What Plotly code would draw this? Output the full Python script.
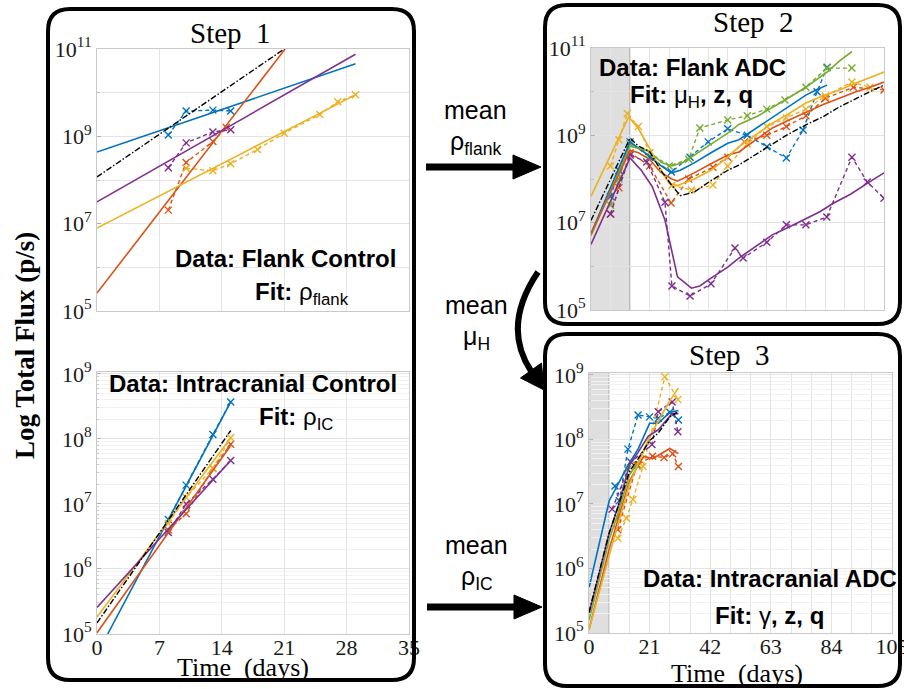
import plotly.graph_objects as go

W, H = 904, 689

BLUE = '#0072BD'; ORANGE = '#D95319'; YELLOW = '#EDB120'
PURPLE = '#7E2F8E'; GREEN = '#77AC30'; BLACK = '#000000'

# ---------------- Step 1 (top): Flank control, values as log10(flux) ----------------
FC_BLUE_FIT_T = [0, 29];      FC_BLUE_FIT = [8.64, 10.66]
FC_ORANGE_FIT_T = [0, 21.1];  FC_ORANGE_FIT = [5.41, 11.0]
FC_YELLOW_FIT_T = [0, 29];    FC_YELLOW_FIT = [6.9, 9.95]
FC_PURPLE_FIT_T = [0, 29];    FC_PURPLE_FIT = [7.5, 10.88]
FC_MEAN_FIT_T = [0, 21];      FC_MEAN_FIT = [8.07, 11.0]

FC_BLUE_T = [8, 10, 13, 15];        FC_BLUE = [9.03, 9.58, 9.6, 9.58]
FC_ORANGE_T = [8, 10, 13, 14.5];    FC_ORANGE = [7.31, 8.4, 8.88, 9.2]
FC_YELLOW_T = [10, 13, 15, 18, 21, 25, 27, 29]
FC_YELLOW = [8.27, 8.21, 8.37, 8.7, 9.07, 9.5, 9.79, 9.95]
FC_PURPLE_T = [8, 10, 13, 15];      FC_PURPLE = [8.28, 8.85, 9.1, 9.15]

# ---------------- Step 1 (bottom): Intracranial control ----------------
IC_BLUE_FIT_T = [1.2, 15];   IC_BLUE_FIT = [5.0, 8.57]
IC_ORANGE_FIT_T = [0, 15];   IC_ORANGE_FIT = [5.02, 7.9]
IC_YELLOW_FIT_T = [0, 15];   IC_YELLOW_FIT = [5.26, 8.02]
IC_PURPLE_FIT_T = [0, 15];   IC_PURPLE_FIT = [5.41, 7.67]
IC_MEAN_FIT_T = [0, 15];     IC_MEAN_FIT = [5.17, 8.13]

IC_BLUE_T = [8, 10, 13, 15];    IC_BLUE = [6.76, 7.29, 8.07, 8.57]
IC_ORANGE_T = [8, 10, 13, 15];  IC_ORANGE = [6.6, 6.85, 7.55, 7.92]
IC_YELLOW_T = [8, 10, 13, 15];  IC_YELLOW = [6.7, 7.1, 7.55, 8.02]
IC_PURPLE_T = [8, 10, 13, 15];  IC_PURPLE = [6.56, 7.0, 7.38, 7.67]

# ---------------- Step 2: Flank ADC (model = solid, data = dashed) ----------------
FA_MEAN_T = [0, 14, 17, 21, 25, 29, 32, 37, 42, 49, 53, 58, 65, 70, 77, 83, 89, 95, 100, 105]
FA_MEAN = [7.05, 8.94, 8.75, 8.63, 8.2, 7.85, 7.62, 7.7, 7.92, 8.2, 8.32, 8.52, 8.82, 9.0, 9.24, 9.42, 9.65, 9.85, 10.0, 10.15]

FA_BLUE_T = [0, 14, 17, 20.5, 24, 28.8, 32, 37, 43, 49, 53, 59, 65, 71, 77, 81, 84.6]
FA_BLUE = [6.75, 8.85, 8.7, 8.55, 8.35, 8.14, 8.2, 8.37, 8.6, 8.82, 8.9, 9.15, 9.42, 9.65, 9.92, 10.05, 10.15]
FA_GREEN_T = [0, 14, 17, 20.5, 25.5, 29, 33, 37, 43, 49, 53, 60, 69.5, 77, 84.6, 89, 93.5]
FA_GREEN = [6.7, 8.75, 8.7, 8.64, 8.37, 8.3, 8.38, 8.55, 8.8, 9.05, 9.25, 9.45, 9.81, 10.1, 10.45, 10.7, 10.92]
FA_ORANGE_T = [0, 14, 17, 21, 25, 29, 31, 37, 43, 49, 53, 59, 65, 71, 77, 83, 89, 95, 100, 105]
FA_ORANGE = [6.75, 8.66, 8.6, 8.45, 8.15, 8.0, 7.95, 8.14, 8.35, 8.55, 8.62, 8.9, 9.17, 9.35, 9.53, 9.7, 9.85, 10.0, 10.1, 10.22]
FA_YELLOW_T = [0, 13.5, 17, 21, 25, 28, 31, 37, 43, 49, 53, 59, 65, 71, 77, 83, 89, 95, 100, 105]
FA_YELLOW = [7.6, 9.42, 9.15, 8.7, 8.2, 7.9, 7.85, 8.0, 8.2, 8.5, 8.74, 9.0, 9.28, 9.5, 9.74, 9.9, 10.04, 10.2, 10.32, 10.45]
FA_PURPLE_T = [0, 14, 18, 22, 26.5, 29, 31, 36, 39, 43, 49, 53, 59, 65, 71, 77, 82, 87, 93, 99, 105]
FA_PURPLE = [6.5, 8.48, 8.2, 7.82, 7.06, 6.3, 5.76, 5.5, 5.55, 5.73, 5.98, 6.19, 6.45, 6.72, 6.9, 7.1, 7.25, 7.45, 7.65, 7.9, 8.14]

FA_BLUE_DT = [7, 10, 14, 21, 28.8, 35.5, 42, 49, 56, 63, 70, 76, 81, 84.6]
FA_BLUE_D = [7.6, 8.2, 8.85, 8.5, 8.16, 8.5, 8.85, 9.15, 9.0, 8.74, 8.48, 9.12, 10.0, 10.56]
FA_GREEN_DT = [7, 10, 14, 21, 28, 35, 39, 49, 56, 63, 69.5, 77, 84.5, 93.5]
FA_GREEN_D = [7.4, 8.0, 8.8, 8.6, 8.3, 8.45, 9.17, 9.35, 9.45, 9.6, 9.81, 10.1, 10.54, 10.54]
FA_ORANGE_DT = [7, 10, 14, 21, 28.7, 35, 43.7, 49, 55, 63, 70, 77, 84, 94, 105]
FA_ORANGE_D = [7.2, 7.8, 8.6, 8.3, 7.45, 8.0, 8.27, 8.5, 8.85, 9.0, 9.2, 9.45, 9.85, 10.1, 10.04]
FA_YELLOW_DT = [7, 10, 13, 17, 21, 29, 36, 43.7, 49, 56, 63, 70, 77, 84, 93.5, 100]
FA_YELLOW_D = [8.3, 8.9, 9.5, 9.2, 8.6, 7.85, 7.75, 7.86, 8.3, 8.8, 9.2, 9.4, 9.6, 9.9, 10.22, 10.1]
FA_PURPLE_DT = [7, 14, 20, 26.5, 29, 35.5, 43, 51.6, 54.5, 63, 70, 77, 84.5, 93.5, 99, 105]
FA_PURPLE_D = [7.2, 8.55, 8.39, 7.47, 5.55, 5.32, 5.6, 6.42, 6.19, 6.55, 6.95, 6.95, 7.13, 8.5, 7.93, 7.56]

# ---------------- Step 3: Intracranial ADC ----------------
IA_MEAN_T = [0, 7, 10, 14, 17, 21, 24, 28, 30.5]
IA_MEAN = [5.32, 6.55, 6.95, 7.5, 7.7, 7.98, 8.1, 8.35, 8.42]
IA_BLUE_T = [0, 7, 10, 13.5, 17, 21, 24, 28, 31]
IA_BLUE = [5.7, 7.05, 7.3, 7.6, 7.85, 8.25, 8.25, 8.42, 8.45]
IA_ORANGE_T = [0, 7, 10, 14, 17, 19, 22, 25, 28, 31]
IA_ORANGE = [5.05, 6.3, 6.75, 7.35, 7.6, 7.74, 7.7, 7.78, 7.86, 7.78]
IA_YELLOW_T = [0, 7, 14, 21, 28, 31]
IA_YELLOW = [5.05, 6.2, 7.3, 8.05, 8.6, 8.8]
IA_PURPLE_T = [0, 7, 10, 14, 17, 20.5, 24, 28.8, 31]
IA_PURPLE = [5.3, 6.55, 6.95, 7.6, 7.8, 8.05, 8.15, 8.4, 8.4]
IA_GREEN_T = [0, 7, 10, 14, 17, 21]
IA_GREEN = [5.2, 6.45, 6.85, 7.45, 7.65, 8.0]

IA_BLUE_DT = [9, 10.5, 13.5, 17, 21, 24, 28, 31]
IA_BLUE_D = [7.28, 7.05, 7.85, 8.38, 8.35, 8.33, 8.42, 8.3]
IA_ORANGE_DT = [10, 16.6, 22, 26, 29, 31]
IA_ORANGE_D = [6.6, 7.6, 7.74, 7.72, 7.78, 7.58]
IA_YELLOW_DT = [10, 13, 15.2, 18.7, 26.3, 30.8]
IA_YELLOW_D = [6.47, 6.78, 7.07, 7.58, 8.97, 8.62]
IA_PURPLE_DT = [8, 14.5, 21.8, 24, 28.8, 30.8]
IA_PURPLE_D = [6.92, 7.65, 7.92, 8.43, 8.58, 8.12]
IA_GREEN_DT = [10, 13.5, 17]
IA_GREEN_D = [6.78, 7.54, 7.6]

# axis ticks
LABELED_A = [5, 7, 9, 11]
UNLABELED_A = [6, 8, 10]
DECADES_B = [5, 6, 7, 8, 9]
DAY_TICKS_1 = [0, 7, 14, 21, 28, 35]
DAY_TICKS_2 = [0, 21, 42, 63, 84, 105]

SERIF = 'Liberation Serif, Times New Roman, serif'
SANS = 'Liberation Sans, Arial, Helvetica, sans-serif'

fig = go.Figure()


def lin(v):
    return [10 ** e for e in v]


def add_model(t, v, color, xa, ya, dash='solid', width=1.6):
    fig.add_trace(go.Scatter(x=t, y=lin(v), mode='lines', xaxis=xa, yaxis=ya,
                             line=dict(color=color, width=width, dash=dash),
                             showlegend=False, hoverinfo='skip'))


def add_data(t, v, color, xa, ya):
    fig.add_trace(go.Scatter(x=t, y=lin(v), mode='lines+markers', xaxis=xa, yaxis=ya,
                             line=dict(color=color, width=1.4, dash='4px,3px'),
                             marker=dict(symbol='x-thin', size=7, color=color,
                                         line=dict(color=color, width=1.4)),
                             showlegend=False, hoverinfo='skip'))


MEANDASH = '6px,2px,1.5px,2px'

# Step 1 top
for t, v, c in [(FC_BLUE_T, FC_BLUE, BLUE), (FC_ORANGE_T, FC_ORANGE, ORANGE),
                (FC_YELLOW_T, FC_YELLOW, YELLOW), (FC_PURPLE_T, FC_PURPLE, PURPLE)]:
    add_data(t, v, c, 'x', 'y')
for t, v, c in [(FC_BLUE_FIT_T, FC_BLUE_FIT, BLUE), (FC_ORANGE_FIT_T, FC_ORANGE_FIT, ORANGE),
                (FC_YELLOW_FIT_T, FC_YELLOW_FIT, YELLOW), (FC_PURPLE_FIT_T, FC_PURPLE_FIT, PURPLE)]:
    add_model(t, v, c, 'x', 'y')
add_model(FC_MEAN_FIT_T, FC_MEAN_FIT, BLACK, 'x', 'y', dash=MEANDASH, width=1.4)

# Step 1 bottom
for t, v, c in [(IC_BLUE_T, IC_BLUE, BLUE), (IC_ORANGE_T, IC_ORANGE, ORANGE),
                (IC_YELLOW_T, IC_YELLOW, YELLOW), (IC_PURPLE_T, IC_PURPLE, PURPLE)]:
    add_data(t, v, c, 'x2', 'y2')
for t, v, c in [(IC_BLUE_FIT_T, IC_BLUE_FIT, BLUE), (IC_ORANGE_FIT_T, IC_ORANGE_FIT, ORANGE),
                (IC_YELLOW_FIT_T, IC_YELLOW_FIT, YELLOW), (IC_PURPLE_FIT_T, IC_PURPLE_FIT, PURPLE)]:
    add_model(t, v, c, 'x2', 'y2')
add_model(IC_MEAN_FIT_T, IC_MEAN_FIT, BLACK, 'x2', 'y2', dash=MEANDASH, width=1.4)

# Step 2
for t, v, c in [(FA_BLUE_DT, FA_BLUE_D, BLUE), (FA_GREEN_DT, FA_GREEN_D, GREEN),
                (FA_ORANGE_DT, FA_ORANGE_D, ORANGE), (FA_YELLOW_DT, FA_YELLOW_D, YELLOW),
                (FA_PURPLE_DT, FA_PURPLE_D, PURPLE)]:
    add_data(t, v, c, 'x3', 'y3')
for t, v, c in [(FA_BLUE_T, FA_BLUE, BLUE), (FA_GREEN_T, FA_GREEN, GREEN),
                (FA_ORANGE_T, FA_ORANGE, ORANGE), (FA_YELLOW_T, FA_YELLOW, YELLOW),
                (FA_PURPLE_T, FA_PURPLE, PURPLE)]:
    add_model(t, v, c, 'x3', 'y3')
add_model(FA_MEAN_T, FA_MEAN, BLACK, 'x3', 'y3', dash=MEANDASH, width=1.4)

# Step 3
for t, v, c in [(IA_BLUE_DT, IA_BLUE_D, BLUE), (IA_GREEN_DT, IA_GREEN_D, GREEN),
                (IA_ORANGE_DT, IA_ORANGE_D, ORANGE), (IA_YELLOW_DT, IA_YELLOW_D, YELLOW),
                (IA_PURPLE_DT, IA_PURPLE_D, PURPLE)]:
    add_data(t, v, c, 'x4', 'y4')
for t, v, c in [(IA_BLUE_T, IA_BLUE, BLUE), (IA_GREEN_T, IA_GREEN, GREEN),
                (IA_ORANGE_T, IA_ORANGE, ORANGE), (IA_YELLOW_T, IA_YELLOW, YELLOW),
                (IA_PURPLE_T, IA_PURPLE, PURPLE)]:
    add_model(t, v, c, 'x4', 'y4')
add_model(IA_MEAN_T, IA_MEAN, BLACK, 'x4', 'y4', dash=MEANDASH, width=1.4)


# ---------------- axes ----------------
def px_x(px):
    return px / W


def px_y(py):
    return 1 - py / H


TICKFONT = dict(family=SERIF, size=22, color='#1a1a1a')
GRID = '#e4e4e4'
FAINT = '#f2f2f2'
FRAME = '#c9c9c9'


def yax(labeled, extra_grid, dom, rng, anchor):
    if extra_grid:
        minor = dict(tickvals=[10 ** d for d in extra_grid], ticks='inside', ticklen=3,
                     tickcolor='#c0c0c0', showgrid=True, gridcolor=GRID)
    else:
        minor = dict(tickvals=[k * 10 ** d for d in labeled[:-1] for k in range(2, 10)],
                     ticks='inside', ticklen=2, tickcolor='#cccccc',
                     showgrid=True, gridcolor=FAINT)
    return dict(type='log', domain=dom, range=rng, anchor=anchor, automargin=False,
                tickmode='array', tickvals=[10 ** d for d in labeled],
                ticktext=['10<sup>%d</sup>' % d for d in labeled],
                showgrid=True, gridcolor=GRID, gridwidth=1,
                showline=True, linecolor=FRAME, linewidth=1, mirror=True,
                ticks='inside', ticklen=4, tickcolor='#b0b0b0',
                minor=minor, tickfont=TICKFONT, zeroline=False, fixedrange=True)


def xax(dom, rng, anchor, labels, major, minor_step):
    d = dict(domain=dom, range=rng, anchor=anchor, automargin=False,
             tickmode='array', tickvals=major, ticktext=[str(v) for v in major],
             showticklabels=labels, ticklabeloverflow='allow', ticklabelstandoff=-6,
             showgrid=True, gridcolor=GRID, gridwidth=1,
             showline=True, linecolor=FRAME, linewidth=1, mirror=True,
             ticks='', tickfont=TICKFONT, zeroline=False, fixedrange=True)
    if minor_step:
        d['minor'] = dict(dtick=minor_step, tick0=0, showgrid=True, gridcolor=GRID, ticks='')
    return d


fig.update_layout(
    template='none',
    width=W, height=H, autosize=False,
    margin=dict(l=0, r=0, t=0, b=0, pad=0),
    paper_bgcolor='white', plot_bgcolor='white',
    showlegend=False,
    xaxis=xax([px_x(97), px_x(409)], [0, 35], 'y', False, DAY_TICKS_1, None),
    yaxis=yax(LABELED_A, UNLABELED_A, [px_y(311), px_y(49)], [5, 11], 'x'),
    xaxis2=xax([px_x(97), px_x(409)], [0, 35], 'y2', True, DAY_TICKS_1, None),
    yaxis2=yax(DECADES_B, None, [px_y(634), px_y(372)], [5, 9.03], 'x2'),
    xaxis3=xax([px_x(591), px_x(884)], [0, 105], 'y3', False, DAY_TICKS_2, 7),
    yaxis3=yax(LABELED_A, UNLABELED_A, [px_y(310), px_y(48)], [5, 11], 'x3'),
    xaxis4=xax([px_x(589), px_x(892)], [0, 105], 'y4', True, DAY_TICKS_2, 7),
    yaxis4=yax(DECADES_B, None, [px_y(633), px_y(373)], [5, 9.03], 'x4'),
)

shapes = []

# gray initial periods
for xa, ya, end in [('x3', 'y3', 14), ('x4', 'y4', 7)]:
    shapes.append(dict(type='rect', xref=xa, yref=ya + ' domain', x0=0, x1=end, y0=0, y1=1,
                       fillcolor='rgba(150,150,150,0.3)', line=dict(width=0), layer='below'))
    shapes.append(dict(type='line', xref=xa, yref=ya + ' domain', x0=end, x1=end, y0=0, y1=1,
                       line=dict(color='#8a8a8a', width=1), layer='below'))


def P(x, y):
    return '%.5f,%.5f' % (px_x(x), px_y(y))


def rbox(x0, y0, x1, y1, r):
    return ('M' + P(x0 + r, y0) + ' L' + P(x1 - r, y0) + ' Q' + P(x1, y0) + ' ' + P(x1, y0 + r) +
            ' L' + P(x1, y1 - r) + ' Q' + P(x1, y1) + ' ' + P(x1 - r, y1) +
            ' L' + P(x0 + r, y1) + ' Q' + P(x0, y1) + ' ' + P(x0, y1 - r) +
            ' L' + P(x0, y0 + r) + ' Q' + P(x0, y0) + ' ' + P(x0 + r, y0) + ' Z')


for box in [(48, 9, 414, 680), (545, 5, 900, 324), (545, 334, 900, 686)]:
    shapes.append(dict(type='path', xref='paper', yref='paper', path=rbox(*box, 22),
                       line=dict(color='black', width=4), fillcolor='rgba(0,0,0,0)', layer='above'))

# straight arrows
for (xs, xe, yy) in [(426, 516, 167), (427, 517, 607)]:
    shapes.append(dict(type='path', xref='paper', yref='paper',
                       path='M' + P(xs, yy) + ' L' + P(xe, yy),
                       line=dict(color='black', width=7), layer='above'))
    shapes.append(dict(type='path', xref='paper', yref='paper',
                       path='M' + P(xe - 3, yy - 12) + ' L' + P(xe + 25, yy) + ' L' + P(xe - 3, yy + 12) + ' Z',
                       line=dict(color='black', width=1), fillcolor='black', layer='above'))

# curved arrow
shapes.append(dict(type='path', xref='paper', yref='paper',
                   path='M' + P(538, 272) + ' Q' + P(501.5, 326) + ' ' + P(531, 371),
                   line=dict(color='black', width=6), fillcolor='rgba(0,0,0,0)', layer='above'))
shapes.append(dict(type='path', xref='paper', yref='paper',
                   path='M' + P(520.5, 378) + ' L' + P(544, 390) + ' L' + P(541.5, 363) + ' Z',
                   line=dict(color='black', width=1), fillcolor='black', layer='above'))

fig.update_layout(shapes=shapes)

ann = []


def text(x, y, s, size, family=SANS, angle=0, color='black'):
    ann.append(dict(x=px_x(x), y=px_y(y), xref='paper', yref='paper', text=s, showarrow=False,
                    xanchor='center', yanchor='middle', textangle=angle,
                    font=dict(family=family, size=size, color=color)))


# titles
text(231, 33, 'Step&nbsp;&nbsp;1', 29, SERIF)
text(753, 22, 'Step&nbsp;&nbsp;2', 29, SERIF)
text(729, 355, 'Step&nbsp;&nbsp;3', 29, SERIF)
text(243, 667, 'Time&nbsp;&nbsp;(days)', 26, SERIF)
text(737, 673, 'Time&nbsp;&nbsp;(days)', 26, SERIF)
text(25, 346, '<b>Log Total Flux (p/s)</b>', 27, SERIF, angle=-90)

# panel texts
text(285, 258, '<b>Data: Flank Control</b>', 24)
text(302, 293, '<b>Fit:</b> ρ<sub>flank</sub>', 24)
text(253, 383, '<b>Data: Intracranial Control</b>', 24)
text(296, 418, '<b>Fit:</b> ρ<sub>IC</sub>', 24)
text(692, 67, '<b>Data: Flank ADC</b>', 24)
text(691, 97, '<b>Fit: </b>μ<sub>H</sub><b>, z, q</b>', 24)
text(770, 578, '<b>Data: Intracranial ADC</b>', 24)
text(769, 615, '<b>Fit: </b>γ<b>, z, q</b>', 24)

# middle texts
text(475, 110, 'mean', 25)
text(475, 143, 'ρ<sub>flank</sub>', 25)
text(477, 305, 'mean', 25)
text(477, 338, 'μ<sub>H</sub>', 25)
text(477, 545, 'mean', 25)
text(477, 578, 'ρ<sub>IC</sub>', 25)

fig.update_layout(annotations=ann)

# the page body has a default 8px margin; remove it so the figure fills the window exactly
fig.write_html('out.html', post_script="document.body.style.margin='0';",
               config={'displayModeBar': False})
